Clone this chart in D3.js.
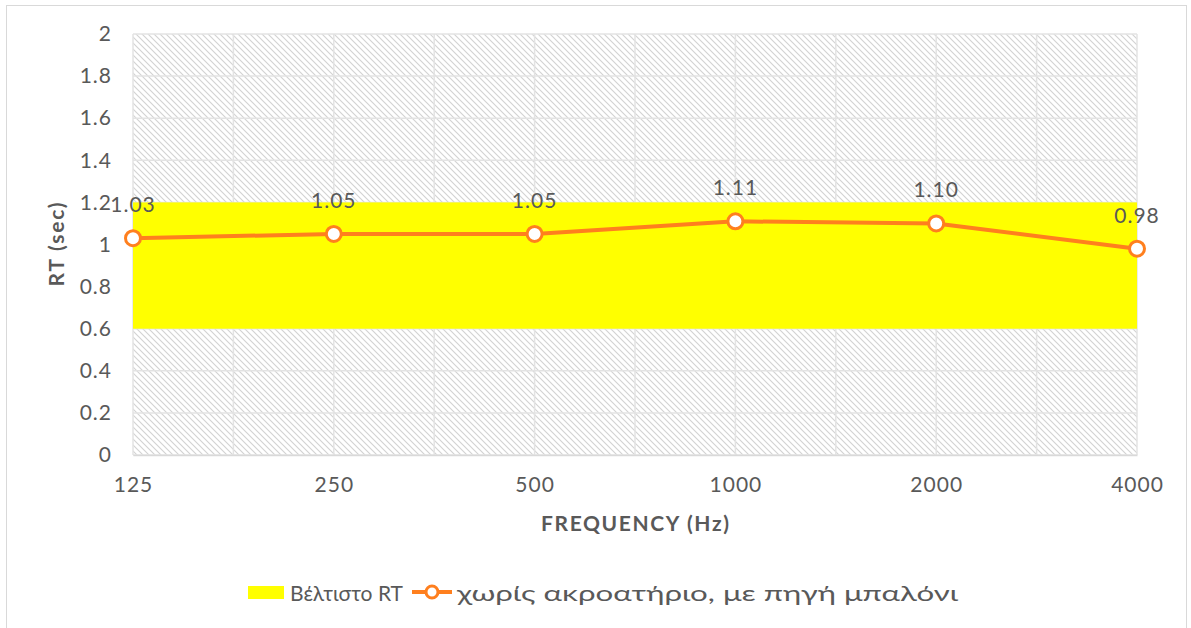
<!DOCTYPE html>
<html>
<head>
<meta charset="utf-8">
<script src="https://cdn.jsdelivr.net/npm/d3@7/dist/d3.min.js"></script>
<style>
  html, body { margin: 0; padding: 0; background: #fff; }
  svg text { font-family: "Lato", "Open Sans", sans-serif; }
</style>
</head>
<body>
<svg id="chart" width="1191" height="628"></svg>
<script>
// Frequencies (Hz) and measured reverberation time (sec)
const frequencies = ["125", "250", "500", "1000", "2000", "4000"];
const rtValues = [1.03, 1.05, 1.05, 1.11, 1.10, 0.98];
// Optimal RT band
const optimalRange = [0.6, 1.2];
const yTicks = [0, 0.2, 0.4, 0.6, 0.8, 1, 1.2, 1.4, 1.6, 1.8, 2];
const seriesNames = ["Βέλτιστο RT", "χωρίς ακροατήριο, με πηγή μπαλόνι"];

const svg = d3.select("#chart");
const m = { left: 133, right: 1137, top: 34, bottom: 455 };
const textColor = "#595959";
const orange = "#FF7F1E";

// Outer frame
svg.append("rect").attr("x", 6.5).attr("y", 5.5).attr("width", 1180).attr("height", 640)
  .attr("fill", "#fff").attr("stroke", "#d9d9d9").attr("stroke-width", 1);

const x = d3.scalePoint().domain(frequencies).range([m.left, m.right]);
const y = d3.scaleLinear().domain([0, 2]).range([m.bottom, m.top]);

// Diagonal hatch for the plot background
const defs = svg.append("defs");
const pat = defs.append("pattern").attr("id", "hatch").attr("patternUnits", "userSpaceOnUse")
  .attr("width", 6).attr("height", 6);
pat.append("rect").attr("width", 6).attr("height", 6).attr("fill", "#fff");
pat.append("path").attr("d", "M-1,-1 L7,7 M-1,5 L1,7 M5,-1 L7,1")
  .attr("stroke", "#d2d2d2").attr("stroke-width", 1.1);

svg.append("rect").attr("x", m.left).attr("y", m.top)
  .attr("width", m.right - m.left).attr("height", m.bottom - m.top)
  .attr("fill", "url(#hatch)");

// Gridlines
const step = x.step();
const vGrid = d3.range(0, frequencies.length * 2 - 1).map(i => m.left + i * step / 2);
svg.append("g").selectAll("line").data(vGrid).join("line")
  .attr("x1", d => d).attr("x2", d => d).attr("y1", m.top).attr("y2", m.bottom)
  .attr("stroke", "#e3e3e3").attr("stroke-width", 1.5);
svg.append("g").selectAll("line").data(yTicks).join("line")
  .attr("x1", m.left).attr("x2", m.right).attr("y1", d => y(d)).attr("y2", d => y(d))
  .attr("stroke", "#e3e3e3").attr("stroke-width", 1.5);

// Optimal band
svg.append("rect").attr("x", m.left).attr("width", m.right - m.left)
  .attr("y", y(optimalRange[1])).attr("height", y(optimalRange[0]) - y(optimalRange[1]))
  .attr("fill", "#FFFF00");

// Y axis
const yAxis = svg.append("g").attr("transform", `translate(${m.left},0)`)
  .call(d3.axisLeft(y).tickValues(yTicks).tickSize(0).tickPadding(21).tickFormat(d => d3.format("")(d)));
yAxis.select(".domain").remove();
yAxis.selectAll("text").attr("fill", textColor).attr("font-size", 21).attr("letter-spacing", 1);

// X axis
const xAxis = svg.append("g").attr("transform", `translate(0,${m.bottom})`)
  .call(d3.axisBottom(x).tickSize(0).tickPadding(22));
xAxis.select(".domain").attr("stroke", "#d9d9d9").attr("stroke-width", 1.5);
xAxis.selectAll("text").attr("fill", textColor).attr("font-size", 21).attr("letter-spacing", 1);

// Axis titles
svg.append("text").attr("transform", `translate(64,${(m.top + m.bottom) / 2}) rotate(-90)`)
  .attr("text-anchor", "middle").attr("font-size", 21).attr("font-weight", "bold")
  .attr("fill", textColor).attr("textLength", 84).attr("lengthAdjust", "spacing").text("RT (sec)");
svg.append("text").attr("x", 635).attr("y", 531)
  .attr("text-anchor", "middle").attr("font-size", 21).attr("font-weight", "bold")
  .attr("fill", textColor).attr("textLength", 188).attr("lengthAdjust", "spacing").text("FREQUENCY (Hz)");

// RT line
const line = d3.line().x((d, i) => x(frequencies[i])).y(d => y(d));
svg.append("path").datum(rtValues).attr("d", line)
  .attr("fill", "none").attr("stroke", orange).attr("stroke-width", 4).attr("stroke-linejoin", "round");
svg.append("g").selectAll("circle").data(rtValues).join("circle")
  .attr("cx", (d, i) => x(frequencies[i])).attr("cy", d => y(d)).attr("r", 7.5)
  .attr("fill", "#fff").attr("stroke", orange).attr("stroke-width", 3);

// Data labels
svg.append("g").selectAll("text").data(rtValues).join("text")
  .attr("x", (d, i) => x(frequencies[i])).attr("y", d => y(d) - 26)
  .attr("text-anchor", "middle").attr("font-size", 21).attr("letter-spacing", 1).attr("fill", textColor)
  .text(d => d3.format(".2f")(d));

// Legend
const lg = svg.append("g");
lg.append("rect").attr("x", 248).attr("y", 586).attr("width", 36).attr("height", 13).attr("fill", "#FFFF00");
lg.append("text").attr("x", 290).attr("y", 601).attr("font-size", 21).attr("fill", textColor)
  .attr("textLength", 113).attr("lengthAdjust", "spacingAndGlyphs").text(seriesNames[0]);
lg.append("line").attr("x1", 412).attr("x2", 452).attr("y1", 592).attr("y2", 592)
  .attr("stroke", orange).attr("stroke-width", 4);
lg.append("circle").attr("cx", 432).attr("cy", 592).attr("r", 6).attr("fill", "#fff")
  .attr("stroke", orange).attr("stroke-width", 3);
lg.append("text").attr("x", 457).attr("y", 601).attr("font-size", 21).attr("fill", textColor)
  .attr("textLength", 501).attr("lengthAdjust", "spacingAndGlyphs").text(seriesNames[1]);
</script>
</body>
</html>
